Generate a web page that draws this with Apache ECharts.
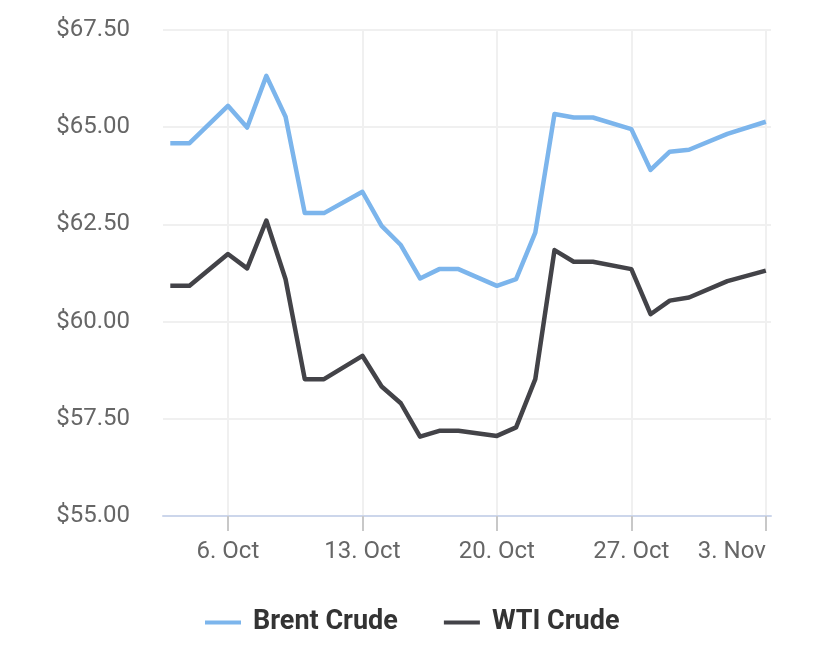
<!DOCTYPE html>
<html>
<head>
<meta charset="utf-8">
<script src="https://cdn.jsdelivr.net/npm/echarts@6/dist/echarts.min.js"></script>
<style>
html,body{margin:0;padding:0;background:#fff;}
#chart{width:830px;height:649px;}
</style>
</head>
<body>
<div id="chart"></div>
<script>
const dates = ['2025-10-03','2025-10-04','2025-10-06','2025-10-07','2025-10-08','2025-10-09','2025-10-10','2025-10-11',
  '2025-10-13','2025-10-14','2025-10-15','2025-10-16','2025-10-17','2025-10-18','2025-10-20','2025-10-21','2025-10-22',
  '2025-10-23','2025-10-24','2025-10-25','2025-10-27','2025-10-28','2025-10-29','2025-10-30','2025-11-01','2025-11-03'];
const brent = [64.59,64.59,65.55,64.99,66.32,65.27,62.79,62.79,63.34,62.46,61.97,61.11,61.35,61.35,60.92,61.09,62.29,
  65.34,65.25,65.25,64.95,63.90,64.37,64.42,64.83,65.14];
const wti = [60.92,60.92,61.74,61.37,62.60,61.09,58.52,58.52,59.12,58.33,57.90,57.04,57.19,57.19,57.06,57.28,58.52,
  61.84,61.54,61.54,61.35,60.19,60.54,60.62,61.04,61.31];
const xTicks = ['2025-10-06','2025-10-13','2025-10-20','2025-10-27','2025-11-03'];
const seriesNames = ['Brent Crude','WTI Crude'];
const months = ['Jan','Feb','Mar','Apr','May','Jun','Jul','Aug','Sep','Oct','Nov','Dec'];

function ts(s){ const p = s.split('-').map(Number); return new Date(p[0], p[1]-1, p[2]).getTime(); }
const DAY = 86400000;
const tickTs = xTicks.map(ts);
const xMin = tickTs[0] - 3.38 * DAY;
const xMax = tickTs[tickTs.length-1] + 0.27 * DAY;

const chart = echarts.init(document.getElementById('chart'), null, {renderer:'canvas'});
chart.setOption({
  animation:false,
  backgroundColor:'#ffffff',
  grid:{left:163, right:59, top:30, bottom:133, containLabel:false},
  xAxis:{
    type:'value', min:xMin, max:xMax, scale:true,
    axisLine:{show:true, lineStyle:{color:'#ccd6eb', width:2}},
    axisTick:{show:true, customValues:tickTs, length:15, lineStyle:{color:'#c8c8c8', width:2}},
    axisLabel:{customValues:tickTs, margin:24, color:'#666666', fontSize:24, fontFamily:'Roboto',
      alignMaxLabel:'right',
      formatter:function(v){ const d=new Date(v); return d.getDate()+'. '+months[d.getMonth()]; }},
    splitLine:{show:true, lineStyle:{color:'#f0f0f0', width:2}}
  },
  yAxis:{
    type:'value', min:55, max:67.5, interval:2.5,
    axisLine:{show:false}, axisTick:{show:false},
    axisLabel:{margin:33, color:'#666666', fontSize:24, fontFamily:'Roboto',
      formatter:function(v){ return '$'+v.toFixed(2); }},
    splitLine:{show:true, lineStyle:{color:'#f0f0f0', width:2}}
  },
  legend:{
    bottom:8, left:200, icon:'rect', itemWidth:36, itemHeight:4, itemGap:46,
    textStyle:{color:'#333333', fontSize:27, fontWeight:'bold', fontFamily:'Roboto', padding:[0,0,0,7]},
    data:seriesNames
  },
  series:[
    {name:seriesNames[0], type:'line', showSymbol:false, symbol:'none', color:'#7cb5ec',
      lineStyle:{width:4.5, color:'#7cb5ec', join:'round'},
      data:dates.map((d,i)=>[ts(d), brent[i]])},
    {name:seriesNames[1], type:'line', showSymbol:false, symbol:'none', color:'#434348',
      lineStyle:{width:4.5, color:'#434348', join:'round'},
      data:dates.map((d,i)=>[ts(d), wti[i]])}
  ]
});
</script>
</body>
</html>
